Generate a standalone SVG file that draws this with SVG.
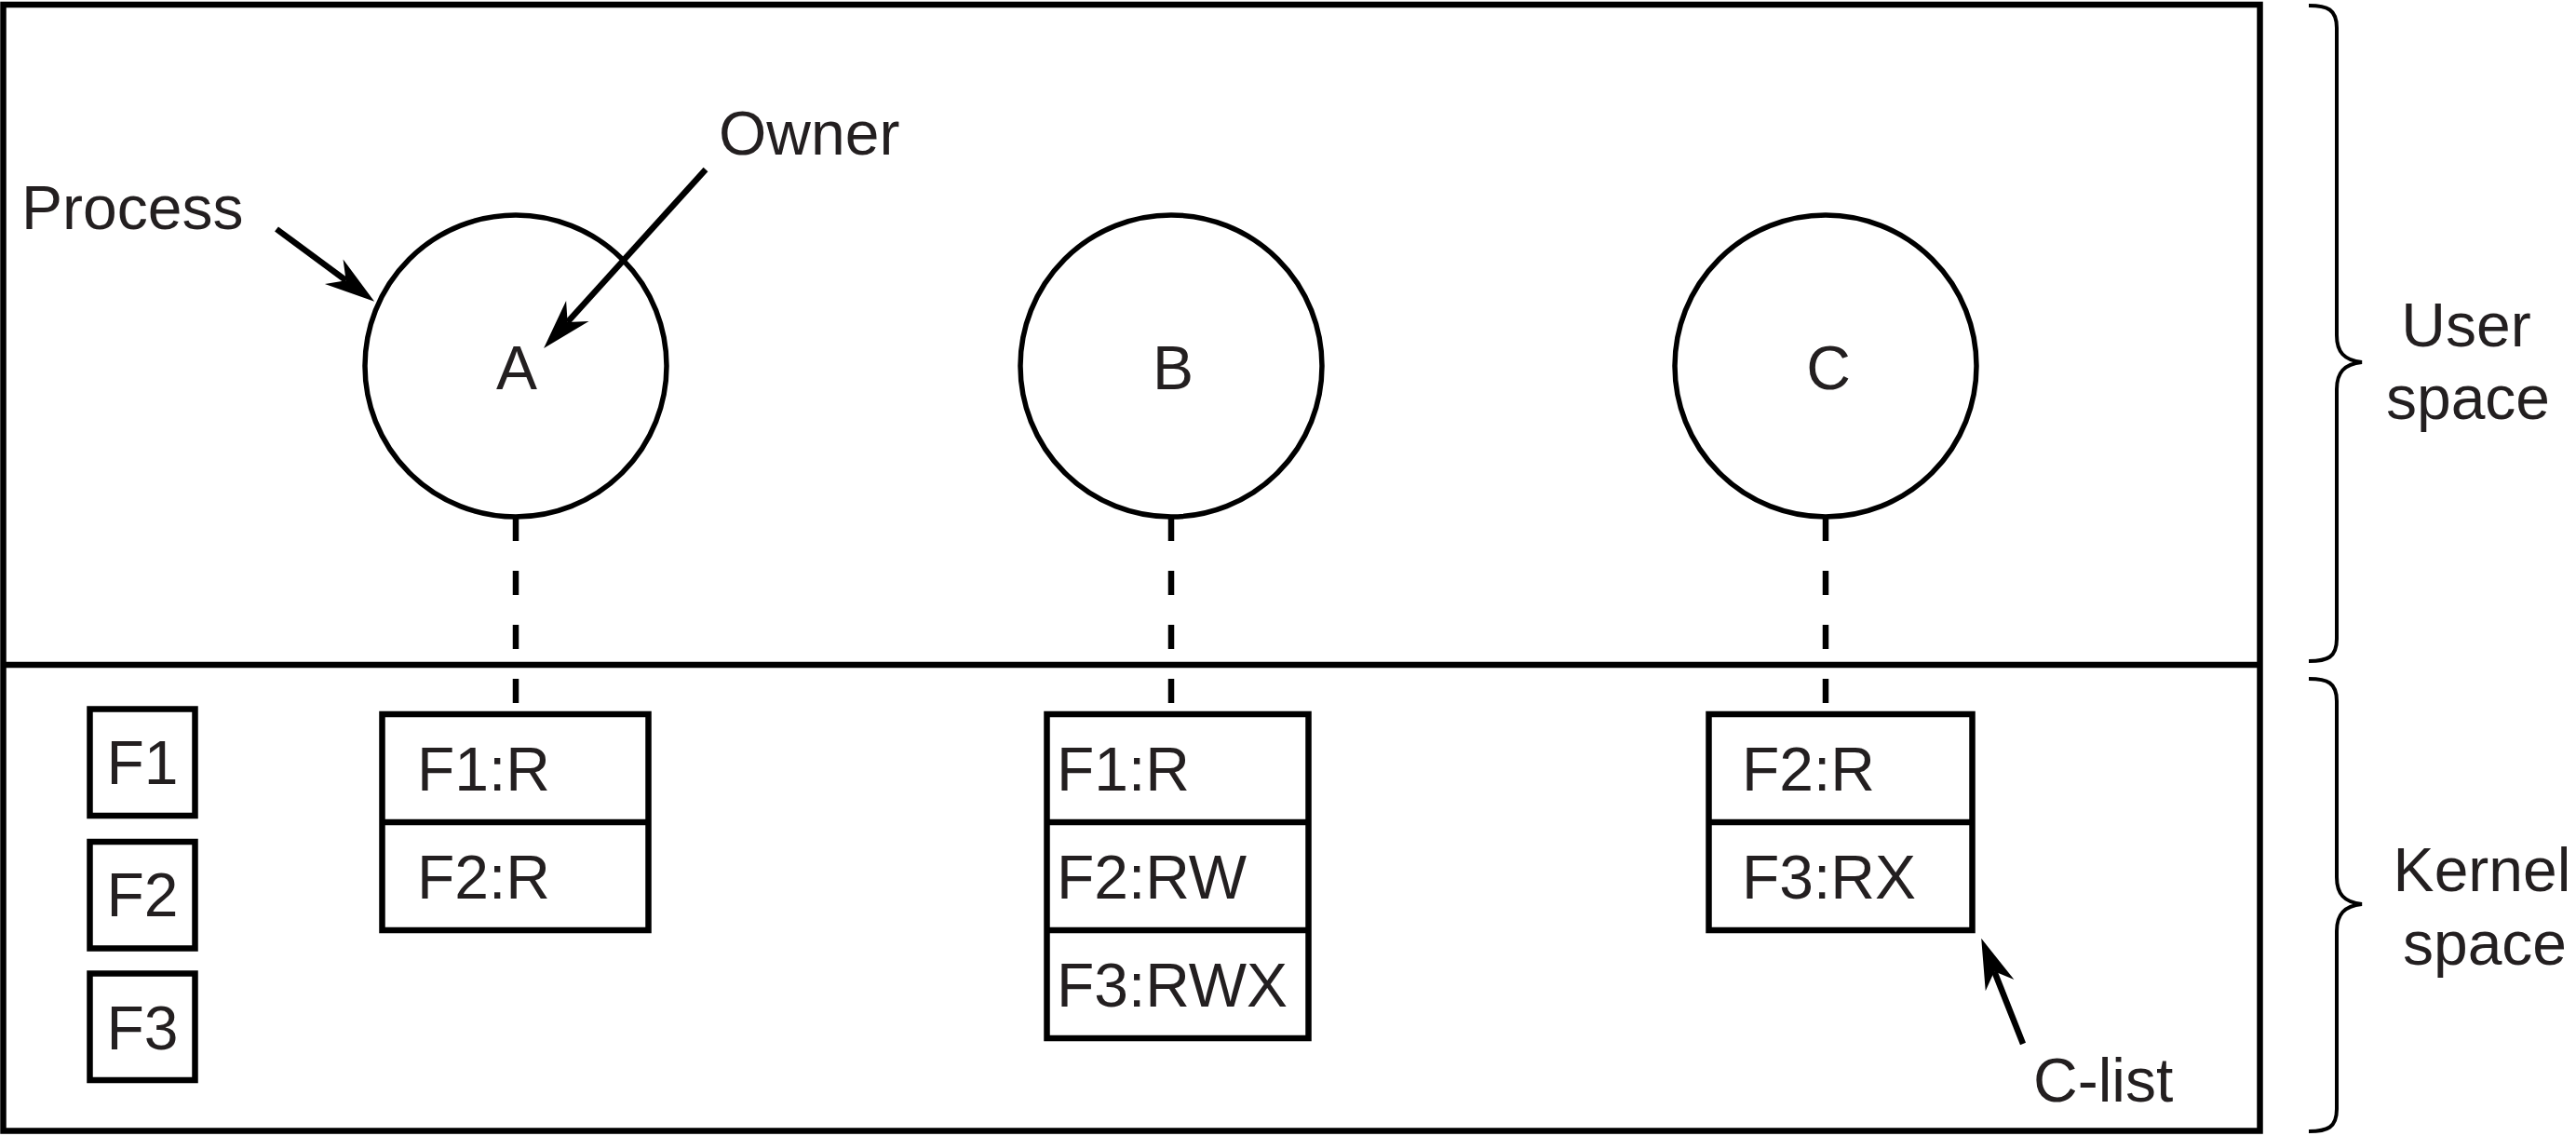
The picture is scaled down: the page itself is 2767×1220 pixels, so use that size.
<svg xmlns="http://www.w3.org/2000/svg" width="2767" height="1220" viewBox="0 0 2767 1220">
<style>
  .bg { fill: #ffffff; }
  .frame { fill: none; stroke: #000; stroke-width: 6.5; }
  .proc { fill: none; stroke: #000; stroke-width: 5.5; }
  .box { fill: #ffffff; stroke: #000; stroke-width: 6.5; }
  .sep { fill: none; stroke: #000; stroke-width: 6.5; }
  .dash { fill: none; stroke: #000; stroke-width: 6.5; stroke-dasharray: 26 32; }
  .arrow { fill: none; stroke: #000; stroke-width: 6.5; marker-end: url(#barb); }
  .brace { fill: none; stroke: #000; stroke-width: 4; }
  text { font-family: "Liberation Sans", Arial, Helvetica, sans-serif; font-size: 66px; fill: #231f20; }
  .mid { text-anchor: middle; }
</style>
<defs>
  <marker id="barb" markerUnits="userSpaceOnUse" orient="auto" refX="0" refY="0" markerWidth="60" markerHeight="40" overflow="visible">
    <path d="M38,0 L-16,-16.5 L0,0 L-16,16.5 Z" fill="#000"/>
  </marker>
</defs>
<rect class="bg" x="0" y="0" width="2767" height="1220"/>

<g id="frame">
  <rect class="frame" x="3.5" y="5" width="2424" height="1209.5"/>
  <line class="sep" x1="3.5" y1="714" x2="2427.5" y2="714"/>
</g>

<g id="process-A">
  <circle class="proc" cx="554" cy="393" r="162"/>
  <text class="mid" x="555" y="418">A</text>
</g>
<g id="process-B">
  <circle class="proc" cx="1258" cy="393" r="162"/>
  <text class="mid" x="1260" y="418">B</text>
</g>
<g id="process-C">
  <circle class="proc" cx="1961" cy="393" r="162"/>
  <text class="mid" x="1964" y="418">C</text>
</g>

<g id="connectors">
  <line class="dash" x1="554" y1="555" x2="554" y2="764"/>
  <line class="dash" x1="1258" y1="555" x2="1258" y2="764"/>
  <line class="dash" x1="1961" y1="555" x2="1961" y2="764"/>
  <line class="arrow" x1="297" y1="246" x2="371.6" y2="301.2"/>
  <line class="arrow" x1="758" y1="182" x2="609.6" y2="345.9"/>
  <line class="arrow" x1="2173" y1="1121" x2="2142.2" y2="1043.2"/>
</g>

<g id="label-process"><text x="23" y="246">Process</text></g>
<g id="label-owner"><text x="772" y="166">Owner</text></g>
<g id="label-clist"><text x="2184" y="1183">C-list</text></g>

<g id="file-F1">
  <rect class="box" x="96.5" y="761.5" width="113" height="114.5"/>
  <text class="mid" x="153" y="842">F1</text>
</g>
<g id="file-F2">
  <rect class="box" x="96.5" y="904" width="113" height="114.5"/>
  <text class="mid" x="153" y="984">F2</text>
</g>
<g id="file-F3">
  <rect class="box" x="96.5" y="1045.5" width="113" height="114.5"/>
  <text class="mid" x="153" y="1127">F3</text>
</g>

<g id="clist-A">
  <rect class="box" x="410.5" y="767" width="286" height="232"/>
  <line class="sep" x1="410.5" y1="883" x2="696.5" y2="883"/>
  <text x="448" y="849">F1:R</text>
  <text x="448" y="965">F2:R</text>
</g>
<g id="clist-B">
  <rect class="box" x="1124.5" y="767" width="281" height="348"/>
  <line class="sep" x1="1124.5" y1="883" x2="1405.5" y2="883"/>
  <line class="sep" x1="1124.5" y1="999" x2="1405.5" y2="999"/>
  <text x="1135" y="849">F1:R</text>
  <text x="1135" y="965">F2:RW</text>
  <text x="1135" y="1081">F3:RWX</text>
</g>
<g id="clist-C">
  <rect class="box" x="1835.5" y="767" width="283" height="232"/>
  <line class="sep" x1="1835.5" y1="883" x2="2118.5" y2="883"/>
  <text x="1871" y="849">F2:R</text>
  <text x="1871" y="965">F3:RX</text>
</g>

<g id="user-space">
  <path class="brace" d="M2480,6 C2500,6 2510,10 2510,30 L2510,360 C2510,378 2518,387 2537,389 C2518,391 2510,400 2510,418 L2510,686 C2510,706 2500,710 2480,710"/>
  <text class="mid" x="2649" y="372">User</text>
  <text class="mid" x="2651" y="450">space</text>
</g>
<g id="kernel-space">
  <path class="brace" d="M2480,729 C2500,729 2510,733 2510,753 L2510,942 C2510,960 2518,969 2537,971 C2518,973 2510,982 2510,1000 L2510,1191 C2510,1211 2500,1215 2480,1215"/>
  <text class="mid" x="2666" y="957">Kernel</text>
  <text class="mid" x="2669" y="1036">space</text>
</g>
</svg>
